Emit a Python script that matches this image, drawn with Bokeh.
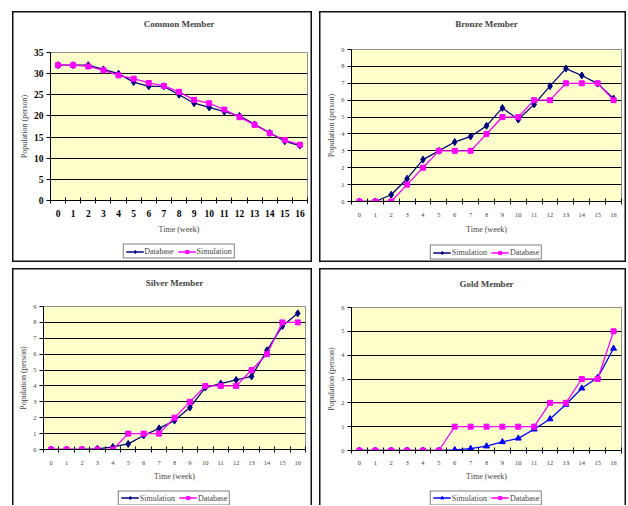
from bokeh.plotting import figure
from bokeh.models import (Range1d, LinearAxis, FixedTicker, Legend, LegendItem,
                          CustomJSTickFormatter)
from bokeh.layouts import column, row
from bokeh.embed import file_html
from bokeh.resources import INLINE

# ---------------- data ----------------
weeks = list(range(17))
common_database = [32, 32, 32, 31, 30, 28, 27, 27, 25, 23, 22, 21, 20, 18, 16, 14, 13]
common_simulation = [32, 32, 31.7, 30.8, 29.6, 28.8, 27.8, 27.1, 25.7, 23.8, 23.0, 21.5, 19.7, 17.9, 15.9, 14.3, 13.2]
bronze_simulation = [0, 0, 0.4, 1.35, 2.48, 3.0, 3.52, 3.85, 4.48, 5.54, 4.85, 5.75, 6.83, 7.87, 7.46, 6.98, 6.1]
bronze_database = [0, 0, 0, 1, 2, 3, 3, 3, 4, 5, 5, 6, 6, 7, 7, 7, 6]
silver_simulation = [0, 0, 0, 0.04, 0.16, 0.35, 0.88, 1.33, 1.82, 2.64, 3.9, 4.15, 4.38, 4.6, 6.24, 7.77, 8.57]
silver_database = [0, 0, 0, 0, 0, 1, 1, 1, 2, 3, 4, 4, 4, 5, 6, 8, 8]
gold_simulation = [0, 0, 0, 0, 0, 0, 0.03, 0.08, 0.18, 0.36, 0.51, 0.89, 1.32, 1.93, 2.61, 3.06, 4.28]
gold_database = [0, 0, 0, 0, 0, 0, 1, 1, 1, 1, 1, 1, 2, 2, 3, 3, 5]

common_yticks = [0, 5, 10, 15, 20, 25, 30, 35]
bronze_yticks = list(range(10))
silver_yticks = list(range(10))
gold_yticks = list(range(7))

SERIF = "Liberation Serif"
NAVY = "#000080"
MAGENTA = "#FF00FF"
BLUE = "#0000FF"


def strip(w, h, borders):
    left, right, top, bottom = borders
    f = figure(width=w, height=h, x_range=Range1d(weeks[-1] + 1, weeks[-1] + 2),
               y_range=Range1d(0, 1), output_backend="svg", toolbar_location=None,
               min_border_left=left, min_border_right=right,
               min_border_top=top, min_border_bottom=bottom,
               x_axis_location=None, y_axis_location=None)
    f.border_fill_color = None
    f.background_fill_color = None
    f.outline_line_color = None
    f.grid.visible = False
    return f


def make_panel(title, yticks, series, w, th, h, lh, title_standoff, mb, bold, sides,
               leg_top, xstand, xlab_stand):
    left, right, top, bottom = mb

    # title strip
    tf = strip(w, th, (0, 0, 0, 0))
    tf.title.text = title
    tf.title.text_font = SERIF
    tf.title.text_font_style = "bold"
    tf.title.text_font_size = "9px"
    tf.title.align = "center"
    tf.title.standoff = title_standoff

    p = figure(width=w, height=h, x_range=Range1d(-0.5, 16.5),
               y_range=Range1d(yticks[0], yticks[-1]),
               output_backend="svg", toolbar_location=None,
               min_border_left=left, min_border_right=right,
               min_border_top=top, min_border_bottom=bottom)
    p.border_fill_color = None
    p.background_fill_color = "#FFFFCC"
    p.outline_line_color = "#909090"
    p.outline_line_width = 1

    tick_font = "9.5px" if bold else "6.5px"
    tick_style = "bold" if bold else "normal"
    tick_color = "#000000" if bold else "#444444"

    # y axis
    ya = p.yaxis[0]
    ya.ticker = FixedTicker(ticks=yticks)
    ya.major_tick_out = 4
    ya.major_tick_in = 0
    ya.minor_tick_line_color = None
    ya.axis_line_color = "black"
    ya.major_label_text_font = SERIF
    ya.major_label_text_font_size = tick_font
    ya.major_label_text_font_style = tick_style
    ya.major_label_text_color = tick_color
    ya.major_label_standoff = 3
    ya.axis_label = "Population (person)"
    ya.axis_label_text_font = SERIF
    ya.axis_label_text_font_style = "normal"
    ya.axis_label_text_font_size = "8px"
    ya.axis_label_standoff = 2

    # x axis with boundary ticks (closest to the frame)
    xa = p.xaxis[0]
    xa.ticker = FixedTicker(ticks=[wk - 0.5 for wk in weeks] + [weeks[-1] + 0.5])
    xa.formatter = CustomJSTickFormatter(code="return ''")
    xa.major_label_text_font_size = "1px"
    xa.major_label_standoff = 0
    xa.major_tick_out = 3
    xa.major_tick_in = 3
    xa.minor_tick_line_color = None
    xa.axis_line_color = "black"

    # labeled x axis (category centers)
    lab = LinearAxis(ticker=FixedTicker(ticks=weeks), axis_line_color=None,
                     major_tick_line_color=None, minor_tick_line_color=None)
    lab.major_label_text_font = SERIF
    lab.major_label_text_font_size = tick_font
    lab.major_label_text_font_style = tick_style
    lab.major_label_text_color = tick_color
    lab.major_label_standoff = xstand
    lab.axis_label = "Time (week)"
    lab.axis_label_text_font = SERIF
    lab.axis_label_text_font_style = "normal"
    lab.axis_label_text_font_size = "8px"
    lab.axis_label_standoff = xlab_stand
    p.add_layout(lab, "below")

    p.xgrid.visible = False
    p.ygrid.ticker = FixedTicker(ticks=yticks[1:-1])
    p.ygrid.grid_line_color = "black"
    p.ygrid.grid_line_width = 1

    # legend strip below the chart (frame aligned with the plot area)
    lf = strip(w, lh, (left, right, leg_top, 0))

    items = []
    for name, vals, color, marker, msize in series:
        p.line(weeks, vals, line_color=color, line_width=1.3)
        p.scatter(weeks, vals, marker=marker, size=msize, fill_color=color,
                  line_color=color)
        ln = lf.line(weeks, vals, line_color=color, line_width=1.3)
        sc = lf.scatter(weeks, vals, marker=marker, size=msize, fill_color=color,
                        line_color=color)
        items.append(LegendItem(label=name, renderers=[ln, sc]))
    leg = Legend(items=items, orientation="horizontal", location="center")
    leg.label_text_font = SERIF
    leg.label_text_font_size = "8px"
    leg.label_standoff = 1
    leg.glyph_width = 18
    leg.glyph_height = 8
    leg.spacing = 4
    leg.padding = 2
    leg.margin = 0
    leg.border_line_color = "black"
    leg.border_line_width = 1
    leg.background_fill_color = "white"
    leg.label_height = 8
    lf.add_layout(leg, "center")

    return column(tf, p, lf, spacing=0, styles={"box-shadow": sides})


ALL = "inset 0 0 0 1.5px #111"
TOP3 = "inset 1.5px 1.5px 0 0 #111, inset -1.5px 0 0 0 #111"

c1 = make_panel("Common Member", common_yticks,
                [("Database", common_database, NAVY, "diamond", 7),
                 ("Simulation", common_simulation, MAGENTA, "square", 5)],
                300, 30, 195, 26, 11, (38, 5, 11, 36), True, ALL, 4, 0, 5)
c2 = make_panel("Bronze Member", bronze_yticks,
                [("Simulation", bronze_simulation, NAVY, "diamond", 7),
                 ("Database", bronze_database, MAGENTA, "square", 5)],
                307, 30, 195, 26, 11, (32, 5, 8, 31), False, ALL, 6, 2, 5)
c3 = make_panel("Silver Member", silver_yticks,
                [("Simulation", silver_simulation, NAVY, "diamond", 7),
                 ("Database", silver_database, MAGENTA, "square", 5)],
                300, 32, 183, 22, 14, (31, 7, 6, 31), False, TOP3, 7, 2, 4)
c4 = make_panel("Gold Member", gold_yticks,
                [("Simulation", gold_simulation, BLUE, "triangle", 6),
                 ("Database", gold_database, MAGENTA, "square", 5)],
                307, 32, 183, 22, 16, (32, 5, 7, 32), False, TOP3, 7, 1, 4)

layout = column(row(c1, c2, spacing=7), row(c3, c4, spacing=7), spacing=6,
                margin=(11, 0, 0, 12))

open("out.html", "w").write(file_html(layout, INLINE))
